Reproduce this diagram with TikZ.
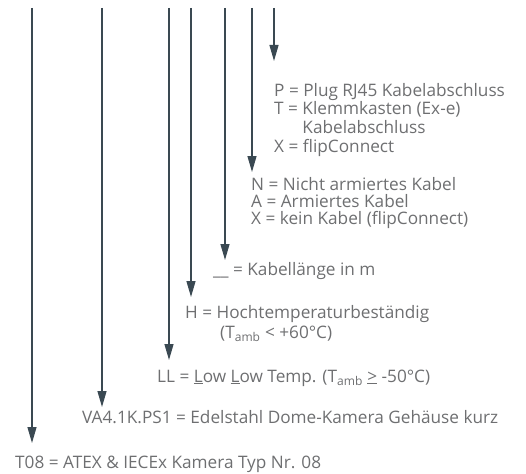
\documentclass[tikz,border=0pt]{standalone}
\usepackage{fontspec}
\setmainfont{Open Sans}
\usetikzlibrary{arrows.meta}
\definecolor{arrowgray}{HTML}{3A4952}
\definecolor{textgray}{HTML}{6E6F71}
\tikzset{
  keyarrow/.style={draw=arrowgray,line width=1.3pt,-{Triangle[length=16pt,width=9pt]}},
  keytext/.style={anchor=base west,inner sep=0pt,text=textgray,font=\fontsize{17.2}{18}\selectfont}
}
\begin{document}
\begin{tikzpicture}[x=1pt,y=-1pt]
\useasboundingbox (0,0) rectangle (526,473);

% arrow start and end points
\coordinate (s1) at (32,8);   \coordinate (e1) at (32,443);
\coordinate (s2) at (102,8);  \coordinate (e2) at (102,407);
\coordinate (s3) at (169,8);  \coordinate (e3) at (169,360);
\coordinate (s4) at (191,8);  \coordinate (e4) at (191,297);
\coordinate (s5) at (225,8);  \coordinate (e5) at (225,260);
\coordinate (s6) at (252,8);  \coordinate (e6) at (252,172);
\coordinate (s7) at (274,8);  \coordinate (e7) at (274,61);

% arrows
\draw[keyarrow] (s1) -- (e1);
\draw[keyarrow] (s2) -- (e2);
\draw[keyarrow] (s3) -- (e3);
\draw[keyarrow] (s4) -- (e4);
\draw[keyarrow] (s5) -- (e5);
\draw[keyarrow] (s6) -- (e6);
\draw[keyarrow] (s7) -- (e7);

% connection
\node[keytext] (plug) at (274,97) {P = Plug RJ45 Kabelabschluss};
\node[keytext] (klemm) at (274,115) {T = Klemmkasten (Ex-e)};
\node[keytext] (klemmb) at (274,133) {\phantom{T = }Kabelabschluss};
\node[keytext] (flip) at (274,152) {X = flipConnect};

% cable type
\node[keytext] (nicht) at (251,190) {N = Nicht armiertes Kabel};
\node[keytext] (armiert) at (251,207) {A = Armiertes Kabel};
\node[keytext] (kein) at (251,224) {X = kein Kabel (flipConnect)};

% cable length
\node[keytext] (laenge) at (213,275) {\_\_ = Kabellänge in m};

% high temperature
\node[keytext] (hoch) at (185,318) {H = Hochtemperaturbeständig};
\node[keytext] (hochb) at (220,338) {(T\textsubscript{amb} < +60°C)};

% low temperature
\node[keytext] (low) at (157,382) {LL = \underline{L}ow \underline{L}ow Temp. (T\textsubscript{amb} \underline{>} -50°C)};

% housing
\node[keytext] (gehaeuse) at (82,423) {VA4.1K.PS1 = Edelstahl Dome-Kamera Gehäuse kurz};

% camera type
\node[keytext] (typ) at (15,468) {T08 = ATEX \& IECEx Kamera Typ Nr. 08};
\end{tikzpicture}
\end{document}
